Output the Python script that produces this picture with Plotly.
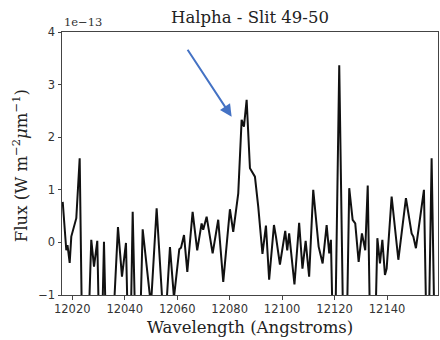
import plotly.graph_objects as go

# Spectrum around H-alpha, slit 49-50 (flux in units of 1e-13 W m^-2 um^-1)
wavelength = [
    12016.37, 12017.74, 12018.20, 12019.03, 12019.64, 12020.94, 12021.55, 12022.84,
    12024.10, 12025.63, 12027.26, 12028.30, 12029.55, 12030.77, 12032.10, 12033.43,
    12035.15, 12037.43, 12038.96, 12040.48, 12041.82, 12043.04, 12044.87, 12046.85,
    12050.00, 12052.17, 12055.16, 12057.25, 12058.77, 12060.80, 12061.46, 12062.60,
    12063.86, 12065.88, 12067.63, 12069.31, 12069.92, 12071.22, 12073.51, 12075.64,
    12077.55, 12080.10, 12081.36, 12083.27, 12084.56, 12085.44, 12086.47, 12087.73,
    12089.63, 12090.89, 12092.50, 12093.83, 12095.05, 12096.88, 12097.64, 12099.16,
    12101.18, 12101.94, 12102.67, 12104.69, 12106.48, 12107.74, 12108.96, 12110.29,
    12111.85, 12113.91, 12115.43, 12116.96, 12117.95, 12118.59, 12119.85, 12121.76,
    12123.67, 12124.20, 12125.57, 12126.87, 12127.86, 12129.16, 12130.41, 12131.67,
    12132.62, 12133.96, 12135.12, 12136.29, 12137.28, 12138.19, 12139.18, 12139.83,
    12141.73, 12144.29, 12147.18, 12149.35, 12150.00, 12150.99, 12154.04, 12155.45,
    12156.97, 12158.50, 12160.00,
]
flux = [
    0.77, -0.15, -0.05, -0.39, 0.11, 0.39, 0.46, 1.60,
    -3.00, -2.50, 0.05, -0.46, 0.03, -3.00, 0.01, -3.00,
    -2.00, 0.29, -0.65, -0.01, -3.00, 0.58, -3.50, 0.25,
    -1.20, 0.65, -1.80, -0.09, -1.05, -0.13, -0.10, 0.14,
    -0.56, 0.58, -0.15, 0.36, 0.24, 0.49, -0.21, 0.43,
    -0.75, 0.63, 0.20, 0.93, 2.33, 2.20, 2.71, 1.41,
    1.25, 0.68, -0.22, 0.32, -0.71, 0.33, 0.11, -0.42,
    0.22, -0.15, 0.17, -0.80, 0.37, -0.50, 0.03, -0.65,
    1.00, -0.08, -0.40, 0.33, -0.21, 0.05, -3.00, 3.37,
    -3.00, -3.00, 1.03, 0.43, 0.36, -0.37, 0.17, -0.15,
    1.08, -3.00, -2.50, 0.08, -0.40, 0.05, -0.62, -0.50,
    0.87, -0.33, 0.84, 0.17, 0.11, -0.11, 1.00, -3.00,
    1.60, -3.00, -3.00,
]

x_ticks = [12020, 12040, 12060, 12080, 12100, 12120, 12140]
x_tick_text = [str(v) for v in x_ticks]
y_ticks = [-1, 0, 1, 2, 3, 4]
y_tick_text = ["\u22121", "0", "1", "2", "3", "4"]

axis_color = "#444444"
serif = "DejaVu Serif"
sans = "DejaVu Sans"

fig = go.Figure()
fig.add_trace(go.Scatter(
    x=wavelength, y=flux, mode="lines",
    line=dict(color="#111111", width=2),
    hoverinfo="skip", showlegend=False,
))

fig.update_layout(
    width=440, height=340,
    margin=dict(l=62, r=2, t=32, b=45),
    paper_bgcolor="white", plot_bgcolor="white",
    title=dict(
        text="Halpha - Slit 49-50",
        font=dict(family=serif, size=16.5, color="#222222"),
        x=0.5, xref="paper", xanchor="center",
        y=1 - 17 / 340, yref="container", yanchor="middle",
    ),
)

fig.update_xaxes(
    range=[12016.1, 12159.4],
    tickmode="array", tickvals=x_ticks, ticktext=x_tick_text,
    ticks="outside", ticklen=3.5, tickwidth=1, tickcolor=axis_color,
    tickfont=dict(family=sans, size=11.5, color="#333333"),
    showgrid=False, zeroline=False,
    showline=True, linecolor=axis_color, linewidth=1, mirror=True,
)
fig.update_yaxes(
    range=[-1, 4],
    tickmode="array", tickvals=y_ticks, ticktext=y_tick_text,
    ticks="outside", ticklen=3.5, tickwidth=1, tickcolor=axis_color,
    tickfont=dict(family=sans, size=11.5, color="#333333"),
    showgrid=False, zeroline=False,
    showline=True, linecolor=axis_color, linewidth=1, mirror=True,
)

# axis titles and the exponent offset label
fig.add_annotation(
    text="Wavelength (Angstroms)", xref="paper", yref="paper",
    x=0.5, y=-32 / 263, xanchor="center", yanchor="middle", showarrow=False,
    font=dict(family=serif, size=16.5, color="#222222"),
)
fig.add_annotation(
    text="Flux (W m<sup>\u22122</sup><i>\u03bc</i>m<sup>\u22121</sup>)",
    xref="paper", yref="paper",
    x=-42 / 376, y=0.49, xanchor="center", yanchor="middle", textangle=-90,
    showarrow=False, font=dict(family=serif, size=16.5, color="#222222"),
)
fig.add_annotation(
    text="1e\u221213", xref="paper", yref="paper",
    x=0.0, y=1.0, xanchor="left", yanchor="bottom", yshift=1, showarrow=False,
    font=dict(family=serif, size=11.5, color="#333333"),
)

# arrow pointing at the H-alpha line
fig.add_annotation(
    x=12080.75, y=2.39, ax=12063.6, ay=3.69,
    xref="x", yref="y", axref="x", ayref="y",
    showarrow=True, arrowhead=2, arrowsize=1.2, arrowwidth=2,
    arrowcolor="#4472C4", text="",
)

fig.write_html("out.html")
